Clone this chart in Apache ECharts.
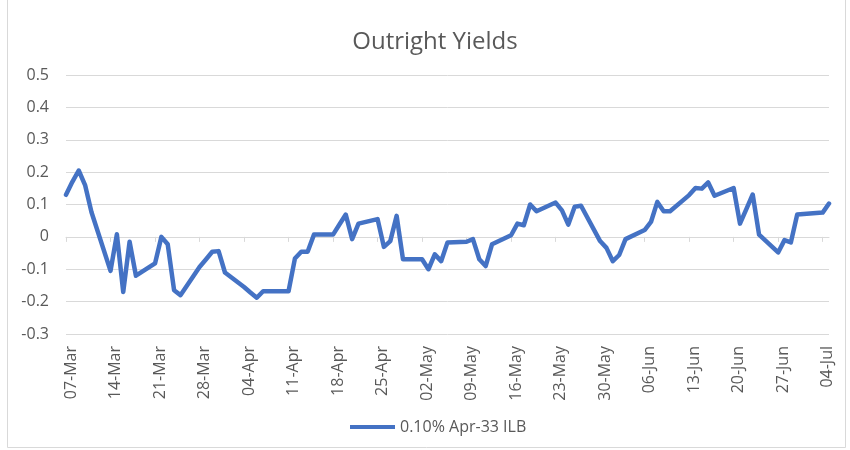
<!DOCTYPE html>
<html><head><meta charset="utf-8">
<script src="https://cdn.jsdelivr.net/npm/echarts@6/dist/echarts.min.js"></script>
<style>html,body{margin:0;padding:0;background:#fff}#c{width:850px;height:450px}</style>
</head><body><div id="c"></div>
<script>
const chartTitle = 'Outright Yields';
const seriesName = '0.10% Apr-33 ILB';
const axisStart = '2022-03-07';
const axisEnd = '2022-07-05';
const tickDates = ['2022-03-07','2022-03-14','2022-03-21','2022-03-28','2022-04-04','2022-04-11',
  '2022-04-18','2022-04-25','2022-05-02','2022-05-09','2022-05-16','2022-05-23','2022-05-30',
  '2022-06-06','2022-06-13','2022-06-20','2022-06-27','2022-07-04'];
const dates = [
  '2022-03-07','2022-03-08','2022-03-09','2022-03-10','2022-03-11',
  '2022-03-14','2022-03-15','2022-03-16','2022-03-17','2022-03-18',
  '2022-03-21','2022-03-22','2022-03-23','2022-03-24','2022-03-25',
  '2022-03-28','2022-03-29','2022-03-30','2022-03-31','2022-04-01',
  '2022-04-04','2022-04-05','2022-04-06','2022-04-07','2022-04-08',
  '2022-04-11','2022-04-12','2022-04-13','2022-04-14','2022-04-15',
  '2022-04-18','2022-04-19','2022-04-20','2022-04-21','2022-04-22',
  '2022-04-25','2022-04-26','2022-04-27','2022-04-28','2022-04-29',
  '2022-05-02','2022-05-03','2022-05-04','2022-05-05','2022-05-06',
  '2022-05-09','2022-05-10','2022-05-11','2022-05-12','2022-05-13',
  '2022-05-16','2022-05-17','2022-05-18','2022-05-19','2022-05-20',
  '2022-05-23','2022-05-24','2022-05-25','2022-05-26','2022-05-27',
  '2022-05-30','2022-05-31','2022-06-01','2022-06-02','2022-06-03',
  '2022-06-06','2022-06-07','2022-06-08','2022-06-09','2022-06-10',
  '2022-06-13','2022-06-14','2022-06-15','2022-06-16','2022-06-17',
  '2022-06-20','2022-06-21','2022-06-22','2022-06-23','2022-06-24',
  '2022-06-27','2022-06-28','2022-06-29','2022-06-30','2022-07-01',
  '2022-07-04','2022-07-05'];
const yields = [
  0.13, 0.17, 0.205, 0.16, 0.077,
  -0.105, 0.008, -0.17, -0.015, -0.12,
  -0.082, 0.0, -0.023, -0.165, -0.18,
  -0.093, -0.07, -0.046, -0.044, -0.11,
  -0.155, -0.172, -0.188, -0.168, -0.168,
  -0.168, -0.067, -0.046, -0.046, 0.007,
  0.007, 0.038, 0.069, -0.007, 0.041,
  0.055, -0.031, -0.013, 0.065, -0.069,
  -0.069, -0.1, -0.054, -0.075, -0.017,
  -0.015, -0.007, -0.069, -0.09, -0.023,
  0.005, 0.041, 0.036, 0.1, 0.079,
  0.106, 0.082, 0.038, 0.093, 0.096,
  -0.013, -0.034, -0.075, -0.056, -0.007,
  0.021, 0.046, 0.108, 0.079, 0.079,
  0.129, 0.151, 0.149, 0.168, 0.127,
  0.151, 0.041, 0.086, 0.131, 0.007,
  -0.048, -0.01, -0.017, 0.069, 0.071,
  0.075, 0.103];
const yMin = -0.3, yMax = 0.5, yStep = 0.1;
const monthNames = ['Jan','Feb','Mar','Apr','May','Jun','Jul','Aug','Sep','Oct','Nov','Dec'];

const DAY = 86400000;
const t0 = Date.parse(axisStart + 'T00:00:00Z');
const dayIndex = s => Math.round((Date.parse(s + 'T00:00:00Z') - t0) / DAY);
const fmtDay = v => {
  const d = new Date(t0 + Math.round(v) * DAY);
  return String(d.getUTCDate()).padStart(2, '0') + '-' + monthNames[d.getUTCMonth()];
};
const tickVals = tickDates.map(dayIndex);
const xMax = dayIndex(axisEnd);
const labelShift = 0.8; // rotated labels sit slightly right of their tick, as in Excel
const FONT = '"Open Sans", "Noto Sans", sans-serif';
const TXT = '#595959';
const GRID = '#d9d9d9';

const chart = echarts.init(document.getElementById('c'), null, {renderer: 'canvas'});
chart.setOption({
  animation: false,
  backgroundColor: '#fff',
  textStyle: {fontFamily: FONT},
  grid: {left: 66, right: 21, top: 75, bottom: 116, containLabel: false},
  graphic: [
    {type: 'rect', shape: {x: 7.5, y: -5, width: 838, height: 452.5},
     style: {fill: null, stroke: GRID, lineWidth: 1}, silent: true, z: -1},
    {type: 'text', x: 435, y: 42,
     style: {text: chartTitle, fill: TXT, font: '24px ' + FONT, align: 'center', verticalAlign: 'middle'}}
  ],
  legend: {
    data: [seriesName], left: 345, top: 414, icon: 'rect', itemWidth: 45, itemHeight: 4,
    textStyle: {color: TXT, fontSize: 16, fontFamily: FONT}
  },
  xAxis: [
    {type: 'value', min: 0, max: xMax, position: 'bottom',
     axisLine: {show: true, onZero: true, lineStyle: {color: GRID, width: 1}},
     axisTick: {show: true, length: 5, customValues: tickVals, lineStyle: {color: GRID}},
     axisLabel: {show: false}, splitLine: {show: false}},
    {type: 'value', min: -labelShift, max: xMax - labelShift, position: 'bottom',
     axisLine: {show: false, onZero: false}, axisTick: {show: false}, splitLine: {show: false},
     axisLabel: {show: true, customValues: tickVals, rotate: 90, margin: 12,
       color: TXT, fontSize: 16, fontFamily: FONT, formatter: fmtDay}}
  ],
  yAxis: {
    type: 'value', min: yMin, max: yMax, interval: yStep,
    axisLine: {show: false}, axisTick: {show: false},
    splitLine: {show: true, lineStyle: {color: GRID, width: 1}},
    axisLabel: {color: TXT, fontSize: 16, fontFamily: FONT, margin: 17,
      formatter: v => String(Math.round(v * 10) / 10)}
  },
  series: [{
    name: seriesName, type: 'line', xAxisIndex: 0,
    data: dates.map((d, i) => [dayIndex(d), yields[i]]),
    showSymbol: false, symbol: 'none', color: '#4472C4',
    lineStyle: {width: 4.5, color: '#4472C4', cap: 'round', join: 'round'}
  }]
});
</script></body></html>
